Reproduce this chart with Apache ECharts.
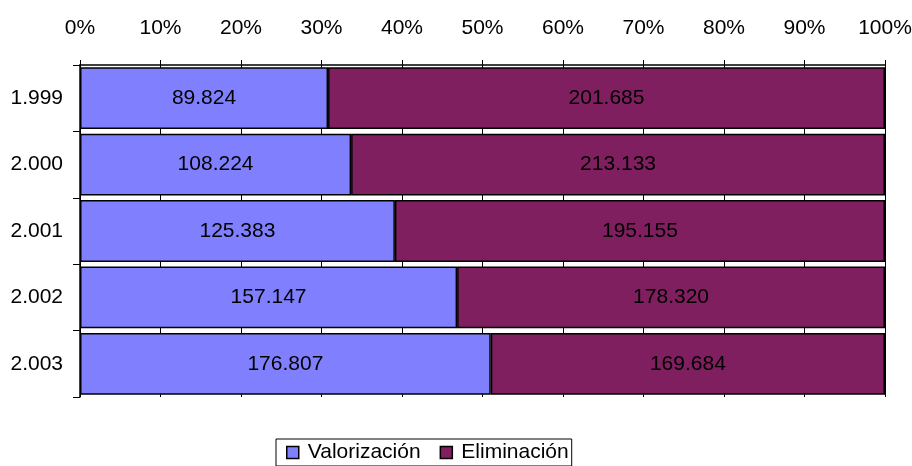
<!DOCTYPE html>
<html>
<head>
<meta charset="utf-8">
<script src="https://cdn.jsdelivr.net/npm/echarts@6/dist/echarts.min.js"></script>
<style>
  html, body { margin: 0; padding: 0; background: #fff; }
  #chart { width: 912px; height: 466px; }
</style>
</head>
<body>
<div id="chart"></div>
<script>
// años (eje vertical)
var years = ['1.999', '2.000', '2.001', '2.002', '2.003'];
var valorizacion = [89824, 108224, 125383, 157147, 176807];
var eliminacion = [201685, 213133, 195155, 178320, 169684];
var seriesNames = ['Valorización', 'Eliminación'];
var percentTicks = ['0%', '10%', '20%', '30%', '40%', '50%', '60%', '70%', '80%', '90%', '100%'];

// formato 89824 -> "89.824"
function fmt(v) {
  return String(v).replace(/\B(?=(\d{3})+(?!\d))/g, '.');
}

var totals = years.map(function (y, i) { return valorizacion[i] + eliminacion[i]; });
function share(arr) {
  return arr.map(function (v, i) { return { value: v / totals[i] * 100, raw: v }; });
}

var font = 'Liberation Sans, Arial, sans-serif';
var chart = echarts.init(document.getElementById('chart'));

var barLabel = {
  show: true,
  position: 'inside',
  fontFamily: font,
  fontSize: 21,
  color: '#000',
  formatter: function (p) { return fmt(p.data.raw); }
};

chart.setOption({
  animation: false,
  color: ['#8080ff', '#7f1f5f'],
  grid: { left: 80, right: 27, top: 65, bottom: 69, outerBoundsMode: 'none' },
  legend: {
    bottom: 0,
    left: 276,
    data: seriesNames,
    icon: 'rect',
    itemWidth: 12,
    itemHeight: 12,
    itemGap: 19,
    padding: [3, 3, 3, 10],
    borderColor: '#000',
    borderWidth: 1,
    itemStyle: { borderColor: '#000', borderWidth: 1.5 },
    textStyle: { fontFamily: font, fontSize: 21, color: '#000', padding: [0, 0, 0, 4] }
  },
  xAxis: {
    type: 'value',
    position: 'top',
    min: 0,
    max: 100,
    interval: 10,
    axisLine: { show: true, lineStyle: { color: '#000', width: 1.5 } },
    axisTick: { show: true, length: 5, lineStyle: { color: '#000' } },
    splitLine: { show: true, lineStyle: { color: '#000', width: 1 } },
    axisLabel: {
      margin: 26,
      fontFamily: font,
      fontSize: 21,
      color: '#000',
      formatter: function (v) { return percentTicks[Math.round(v / 10)]; }
    }
  },
  yAxis: {
    type: 'category',
    data: years,
    inverse: true,
    axisLine: { show: true, lineStyle: { color: '#000', width: 1.5 } },
    axisTick: { show: true, length: 7, lineStyle: { color: '#000' } },
    axisLabel: { margin: 17, fontFamily: font, fontSize: 21, color: '#000' }
  },
  series: [
    {
      name: seriesNames[0],
      type: 'bar',
      stack: 'total',
      barCategoryGap: '7%',
      data: share(valorizacion),
      itemStyle: { borderColor: '#000', borderWidth: 1.5 },
      label: barLabel
    },
    {
      name: seriesNames[1],
      type: 'bar',
      stack: 'total',
      barCategoryGap: '7%',
      data: share(eliminacion),
      itemStyle: { borderColor: '#000', borderWidth: 1.5 },
      label: barLabel
    }
  ]
});
</script>
</body>
</html>
